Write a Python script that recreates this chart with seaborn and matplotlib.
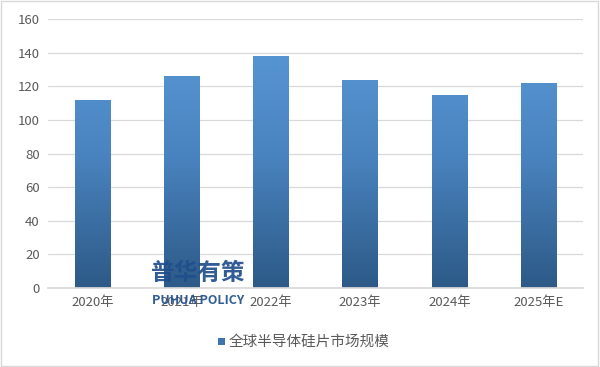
import numpy as np
import pandas as pd
import seaborn as sns
import matplotlib.pyplot as plt
from matplotlib.colors import LinearSegmentedColormap
from matplotlib.patches import Rectangle

years = ["2020年", "2021年", "2022年", "2023年", "2024年", "2025年E"]
market_size = [112, 126, 138, 124, 115, 122]
series_name = "全球半导体硅片市场规模"
y_ticks = [0, 20, 40, 60, 80, 100, 120, 140, 160]

sns.set_theme(style="white")
plt.rcParams['font.family'] = ['Noto Sans CJK SC', 'DejaVu Sans']

df = pd.DataFrame({"year": years, "value": market_size})

fig = plt.figure(figsize=(6.0, 3.67), dpi=100)
ax = fig.add_axes([0.08, 0.215, 0.892, 0.733])

sns.barplot(data=df, x="year", y="value", ax=ax, width=0.4,
            color="#4a86c5", saturation=1)

ax.set_ylim(0, 160)
ax.set_xlim(-0.5, len(years) - 0.5)
ax.set_yticks(y_ticks)
ax.set_xlabel("")
ax.set_ylabel("")
ax.yaxis.grid(True, color="#d9d9d9", linewidth=0.9)
ax.set_axisbelow(True)
for side in ["top", "right", "left"]:
    ax.spines[side].set_visible(False)
ax.spines["bottom"].set_color("#d9d9d9")
ax.tick_params(axis="both", length=0, colors="#595959", labelsize=9.5, pad=6)

# vertical gradient fill for each bar
grad = LinearSegmentedColormap.from_list("bar", ["#2d5a87", "#4a84c0", "#5b9bd8"])
gimg = np.linspace(0, 1, 256).reshape(-1, 1)
for patch in list(ax.patches):
    x0, y0 = patch.get_x(), patch.get_y()
    w, h = patch.get_width(), patch.get_height()
    patch.set_facecolor("none")
    patch.set_edgecolor("none")
    im = ax.imshow(gimg, cmap=grad, aspect="auto", origin="lower",
                   extent=[x0, x0 + w, 0, 160], zorder=2)
    clip = Rectangle((x0, y0), w, h, transform=ax.transData)
    im.set_clip_path(clip)
ax.set_xlim(-0.5, len(years) - 0.5)
ax.set_ylim(0, 160)

# legend
lx, ly = 0.364, 0.072
fig.patches.append(Rectangle((lx, ly - 0.012), 0.011, 0.018, transform=fig.transFigure,
                             facecolor="#3f74ad", edgecolor="none"))
fig.text(lx + 0.017, ly - 0.003, series_name, fontsize=10.5, color="#595959",
         va="center", ha="left")

# watermark
fig.text(0.331, 0.257, "普华有策", fontsize=17, fontweight="bold", color="#1f4e8c",
         ha="center", va="center", alpha=0.92)
fig.text(0.331, 0.182, "PUHUA POLICY", fontsize=9, fontweight="bold", color="#1f4e8c",
         ha="center", va="center", alpha=0.92)

# outer border
fig.patches.append(Rectangle((0.002, 0.003), 0.995, 0.993, transform=fig.transFigure,
                             facecolor="none", edgecolor="#d9d9d9", linewidth=1))

fig.savefig("out.png", dpi=100)
